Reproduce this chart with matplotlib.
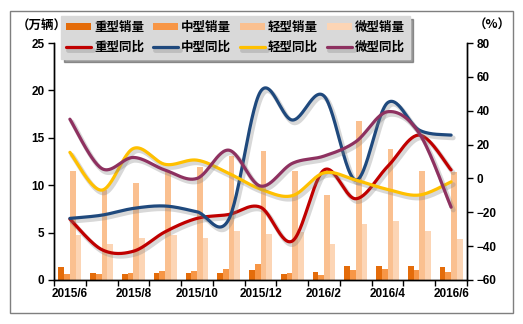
import numpy as np
import matplotlib.pyplot as plt
import matplotlib.patheffects as pe
from matplotlib.patches import Rectangle

plt.rcParams['font.family'] = ['Liberation Sans', 'Noto Sans CJK SC', 'DejaVu Sans']
plt.rcParams['font.weight'] = 'bold'

months = ['2015/6', '2015/7', '2015/8', '2015/9', '2015/10', '2015/11', '2015/12',
          '2016/1', '2016/2', '2016/3', '2016/4', '2016/5', '2016/6']

# sales, 10k vehicles
heavy_sales = [1.41, 0.75, 0.67, 0.74, 0.74, 0.74, 1.05, 0.67, 0.84, 1.48, 1.48, 1.48, 1.37]
medium_sales = [0.67, 0.67, 0.74, 0.95, 0.95, 1.16, 1.69, 0.74, 0.56, 1.05, 1.16, 1.05, 0.84]
light_sales = [11.5, 9.5, 10.2, 11.4, 11.9, 13.1, 13.6, 11.5, 8.97, 16.8, 13.8, 11.5, 11.4]
micro_sales = [4.7, 3.8, 4.4, 4.7, 4.4, 5.2, 4.85, 5.06, 3.8, 5.9, 6.2, 5.2, 4.3]

# year-on-year growth, %
heavy_yoy = [-24, -42, -43, -31.5, -23.6, -21.3, -17, -37, 5, -12, 7, 25.6, 5]
medium_yoy = [-23.6, -21.7, -17.7, -16.3, -19.7, -24.2, 51.3, 34.5, 48.7, -1, 44.7, 28.5, 25.6]
light_yoy = [15.4, -6.9, 17.7, 8.3, 10.8, 3, -6.3, -10.2, 3.3, -1, -6.5, -9.8, -2]
micro_yoy = [35, 5.9, 12.4, 4.9, 0, 16.7, -4.5, 8.9, 13.2, 21.7, 39.4, 26.6, -17]

bar_names = ['重型销量', '中型销量', '轻型销量', '微型销量']
line_names = ['重型同比', '中型同比', '轻型同比', '微型同比']
bar_colors = ['#E46C0A', '#F79646', '#FAC090', '#FCD5B5']
line_colors = ['#C00000', '#1F497D', '#FFC000', '#8E3160']


def smooth(xs, ys, n=30):
    # catmull-rom style bezier through every point
    xs = np.asarray(xs, float)
    ys = np.asarray(ys, float)
    px = np.concatenate([[xs[0]], xs, [xs[-1]]])
    py = np.concatenate([[ys[0]], ys, [ys[-1]]])
    t = np.linspace(0, 1, n)
    outx, outy = [], []
    for i in range(1, len(px) - 2):
        p0x, p1x, p2x, p3x = px[i - 1], px[i], px[i + 1], px[i + 2]
        p0y, p1y, p2y, p3y = py[i - 1], py[i], py[i + 1], py[i + 2]
        c1x, c1y = p1x + (p2x - p0x) / 6, p1y + (p2y - p0y) / 6
        c2x, c2y = p2x - (p3x - p1x) / 6, p2y - (p3y - p1y) / 6
        bx = (1 - t)**3 * p1x + 3 * (1 - t)**2 * t * c1x + 3 * (1 - t) * t**2 * c2x + t**3 * p2x
        by = (1 - t)**3 * p1y + 3 * (1 - t)**2 * t * c1y + 3 * (1 - t) * t**2 * c2y + t**3 * p2y
        outx.extend(bx)
        outy.extend(by)
    return np.array(outx), np.array(outy)


fig = plt.figure(figsize=(5.23, 3.24), dpi=100)
ax = fig.add_axes([54 / 523, 1 - 280 / 324, 413 / 523, 237 / 324])
ax2 = ax.twinx()

x = np.arange(len(months))
w = 0.18
handles = []
for k, (vals, col, name) in enumerate(zip([heavy_sales, medium_sales, light_sales, micro_sales],
                                          bar_colors, bar_names)):
    b = ax.bar(x + (k - 1.5) * w, vals, w, color=col, label=name, zorder=2)
    handles.append(b)

shadow = [pe.SimpleLineShadow(offset=(1.5, -2), shadow_color='#808080', alpha=0.3, linewidth=3.5),
          pe.Normal()]
line_handles = []
for vals, col, name in zip([heavy_yoy, medium_yoy, light_yoy, micro_yoy], line_colors, line_names):
    sx, sy = smooth(x, vals)
    ln, = ax2.plot(sx, sy, color=col, lw=2.3, label=name, solid_capstyle='round',
                   path_effects=shadow)
    line_handles.append(ln)

ax.set_xlim(-0.5, len(months) - 0.5)
ax.set_ylim(0, 25)
ax.set_yticks(np.arange(0, 26, 5))
ax2.set_ylim(-60, 80)
ax2.set_yticks(np.arange(-60, 81, 20))

ax.set_xticks(x[::2])
ax.set_xticklabels(months[::2])
ax.set_xticks(np.arange(-0.5, len(months), 1), minor=True)
ax.tick_params(axis='x', which='major', length=0, pad=6, labelsize=8.5)
ax.tick_params(axis='x', which='minor', length=4, width=1)
ax.tick_params(axis='y', length=4, width=1, labelsize=8.5, pad=3)
ax2.tick_params(axis='y', length=4, width=1, labelsize=8.5, pad=3)

for a in (ax, ax2):
    a.spines['top'].set_visible(False)
    for s in ('left', 'right', 'bottom'):
        a.spines[s].set_linewidth(1)
for lbl in ax.get_xticklabels() + ax.get_yticklabels() + ax2.get_yticklabels():
    lbl.set_fontweight('bold')

fig.text(17 / 523, 1 - 26 / 324, '（万辆）', fontsize=9, fontweight='bold',
         family=['Noto Sans CJK SC', 'DejaVu Sans'], va='center', ha='left')
fig.text(474 / 523, 1 - 25 / 324, '（%）', fontsize=9, fontweight='bold',
         family=['Noto Sans CJK SC', 'DejaVu Sans'], va='center', ha='left')

order = []
for b, l in zip(handles, line_handles):
    order += [b, l]
leg = fig.legend(order, [h.get_label() for h in order], ncol=4, loc='upper left',
                 bbox_to_anchor=(61 / 523, 1 - 16 / 324), frameon=True, shadow=True,
                 facecolor='#D9D9D9', edgecolor='#D9D9D9', fancybox=False,
                 prop={'family': ['Noto Sans CJK SC', 'DejaVu Sans'], 'weight': 'bold', 'size': 9},
                 handlelength=2.0, handleheight=0.55, handletextpad=0.25, columnspacing=0.7,
                 labelspacing=0.55, borderpad=0.4, borderaxespad=0)
leg.get_frame().set_alpha(1)

fig.patches.append(Rectangle((10 / 523, 1 - 313 / 324), 503 / 523, 302 / 324,
                             transform=fig.transFigure, fill=False, edgecolor='#7F7F7F', lw=1))

fig.savefig('out.png', dpi=100)
